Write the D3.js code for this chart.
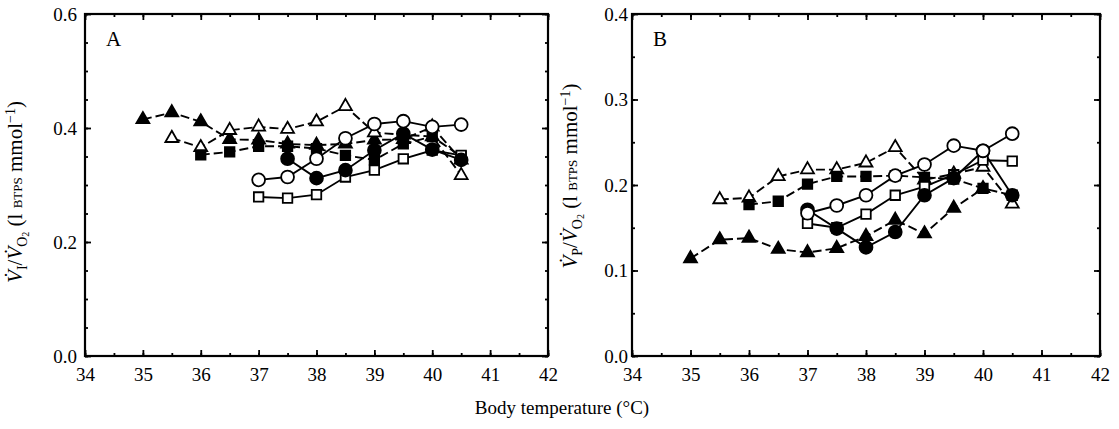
<!DOCTYPE html>
<html>
<head>
<meta charset="utf-8">
<script src="https://cdn.jsdelivr.net/npm/d3@7"></script>
<style>
    body { margin: 0; background: #fff; }
    svg { display: block; font-family: "Liberation Serif", "DejaVu Serif", serif; }
</style>
</head>
<body>
<svg width="1119" height="429"></svg>
<script>
(function(d3) {
    "use strict";

    // temperature ticks (deg C) shared by both panels
    var xTicks = [34, 35, 36, 37, 38, 39, 40, 41, 42],
        yTicksA = [0, 0.2, 0.4, 0.6],
        yTicksB = [0, 0.1, 0.2, 0.3, 0.4];

    // panel A: VI / VO2, [body temperature, value]
    var aFilledTri = [[35, 0.415], [35.5, 0.427], [36, 0.411], [36.5, 0.380], [37, 0.379], [37.5, 0.372],
            [38, 0.370], [38.5, 0.372], [39, 0.379], [39.5, 0.380], [40, 0.402], [40.5, 0.344]],
        aOpenTri = [[35.5, 0.382], [36, 0.366], [36.5, 0.396], [37, 0.402], [37.5, 0.398], [38, 0.411],
            [38.5, 0.438], [39, 0.392], [39.5, 0.388], [40, 0.385], [40.5, 0.317]],
        aFilledSq = [[36, 0.353], [36.5, 0.358], [37, 0.368], [37.5, 0.368], [38, 0.364], [38.5, 0.352],
            [39, 0.344], [39.5, 0.372], [40, 0.385], [40.5, 0.350]],
        aOpenCircle = [[37, 0.309], [37.5, 0.314], [38, 0.346], [38.5, 0.382], [39, 0.407], [39.5, 0.412],
            [40, 0.402], [40.5, 0.406]],
        aFilledCircle = [[37.5, 0.346], [38, 0.312], [38.5, 0.326], [39, 0.361], [39.5, 0.390], [40, 0.362],
            [40.5, 0.344]],
        aOpenSq = [[37, 0.279], [37.5, 0.277], [38, 0.283], [38.5, 0.314], [39, 0.326], [39.5, 0.346],
            [40, 0.361], [40.5, 0.352]];

    // panel B: VP / VO2
    var bFilledTri = [[35, 0.114], [35.5, 0.136], [36, 0.138], [36.5, 0.125], [37, 0.121], [37.5, 0.126],
            [38, 0.140], [38.5, 0.159], [39, 0.143], [39.5, 0.173], [40, 0.196]],
        bOpenTri = [[35.5, 0.183], [36, 0.185], [36.5, 0.210], [37, 0.218], [37.5, 0.218], [38, 0.226],
            [38.5, 0.244], [39, 0.206], [39.5, 0.213], [40, 0.221], [40.5, 0.178]],
        bFilledSq = [[36, 0.177], [36.5, 0.181], [37, 0.201], [37.5, 0.210], [38, 0.210], [38.5, 0.211],
            [39, 0.209], [39.5, 0.207], [40, 0.196], [40.5, 0.188]],
        bOpenCircle = [[37, 0.167], [37.5, 0.176], [38, 0.188], [38.5, 0.211], [39, 0.224], [39.5, 0.246],
            [40, 0.240], [40.5, 0.260]],
        bFilledCircle = [[37, 0.171], [37.5, 0.149], [38, 0.127], [38.5, 0.145], [39, 0.188], [39.5, 0.208],
            [40, 0.240], [40.5, 0.188]],
        bOpenSq = [[37, 0.155], [37.5, 0.150], [38, 0.166], [38.5, 0.188], [39, 0.198], [39.5, 0.212],
            [40, 0.229], [40.5, 0.228]];

    var svg = d3.select("svg"),
        top = 14,
        bottom = 356,

        panels = [{
            label: "A", sub: "I", left: 85, right: 548, yMax: 0.6, yTicks: yTicksA, pad: 8,
            titleX: 22, titleY: 192,
            series: [
                {data: aFilledTri, shape: "tri", filled: true, dashed: true},
                {data: aOpenTri, shape: "tri", filled: false, dashed: true},
                {data: aFilledSq, shape: "sq", filled: true, dashed: true},
                {data: aOpenSq, shape: "sq", filled: false, dashed: false},
                {data: aFilledCircle, shape: "circle", filled: true, dashed: false},
                {data: aOpenCircle, shape: "circle", filled: false, dashed: false}
            ]
        }, {
            label: "B", sub: "P", left: 632, right: 1100, yMax: 0.4, yTicks: yTicksB, pad: 4,
            titleX: 577, titleY: 176,
            series: [
                {data: bFilledTri, shape: "tri", filled: true, dashed: true},
                {data: bOpenTri, shape: "tri", filled: false, dashed: true},
                {data: bFilledSq, shape: "sq", filled: true, dashed: true},
                {data: bOpenSq, shape: "sq", filled: false, dashed: false},
                {data: bFilledCircle, shape: "circle", filled: true, dashed: false},
                {data: bOpenCircle, shape: "circle", filled: false, dashed: false}
            ]
        }],

        symbols = {
            tri: d3.symbol().type(d3.symbolTriangle).size(72),
            sq: d3.symbol().type(d3.symbolSquare).size(90),
            circle: d3.symbol().type(d3.symbolCircle).size(130)
        };

    panels.forEach(function(p) {
        var x = d3.scaleLinear().domain([34, 42]).range([p.left, p.right]),
            y = d3.scaleLinear().domain([0, p.yMax]).range([bottom, top]),
            xMinor = d3.range(34, 42.01, 0.5),
            yMinor = d3.range(0, p.yMax + 0.001, 0.05),
            g = svg.append("g");

        // inward ticks on all four sides
        g.append("g").attr("transform", "translate(0," + bottom + ")")
            .call(d3.axisBottom(x).tickValues(xMinor).tickSize(-3).tickFormat(""));
        g.append("g").attr("transform", "translate(0," + bottom + ")")
            .call(d3.axisBottom(x).tickValues(xTicks).tickSize(-6).tickPadding(12).tickFormat(d3.format("d")));
        g.append("g").attr("transform", "translate(0," + top + ")")
            .call(d3.axisTop(x).tickValues(xMinor).tickSize(-3).tickFormat(""));
        g.append("g").attr("transform", "translate(0," + top + ")")
            .call(d3.axisTop(x).tickValues(xTicks).tickSize(-6).tickFormat(""));
        g.append("g").attr("transform", "translate(" + p.left + ",0)")
            .call(d3.axisLeft(y).tickValues(yMinor).tickSize(-3).tickFormat(""));
        g.append("g").attr("transform", "translate(" + p.left + ",0)")
            .call(d3.axisLeft(y).tickValues(p.yTicks).tickSize(-6).tickPadding(p.pad).tickFormat(d3.format(".1f")));
        g.append("g").attr("transform", "translate(" + p.right + ",0)")
            .call(d3.axisRight(y).tickValues(yMinor).tickSize(-3).tickFormat(""));
        g.append("g").attr("transform", "translate(" + p.right + ",0)")
            .call(d3.axisRight(y).tickValues(p.yTicks).tickSize(-6).tickFormat(""));

        g.selectAll(".domain").remove();
        g.selectAll(".tick line").attr("stroke", "#000").attr("stroke-width", 1.8);
        g.selectAll(".tick text").attr("fill", "#000").attr("font-family", "Liberation Serif").attr("font-size", 19);

        g.append("rect")
            .attr("x", p.left).attr("y", top)
            .attr("width", p.right - p.left).attr("height", bottom - top)
            .attr("fill", "none").attr("stroke", "#000").attr("stroke-width", 2.2);

        g.append("text").attr("x", p.left + 21).attr("y", top + 32)
            .attr("font-size", 21).text(p.label);

        var line = d3.line().x(function(d) { return x(d[0]); }).y(function(d) { return y(d[1]); });

        g.selectAll("path.series").data(p.series).enter().append("path")
            .attr("class", "series")
            .attr("d", function(s) { return line(s.data); })
            .attr("fill", "none").attr("stroke", "#000").attr("stroke-width", 1.9)
            .attr("stroke-dasharray", function(s) { return s.dashed ? "9,4" : null; });

        p.series.forEach(function(s) {
            g.selectAll(null).data(s.data).enter().append("path")
                .attr("transform", function(d) { return "translate(" + x(d[0]) + "," + y(d[1]) + ")"; })
                .attr("d", symbols[s.shape])
                .attr("fill", s.filled ? "#000" : "#fff")
                .attr("stroke", "#000").attr("stroke-width", 1.8);
        });

        // rotated y title: V̇x/V̇O2 (l BTPS mmol−1)
        var t = svg.append("text")
            .attr("transform", "translate(" + p.titleX + "," + p.titleY + ") rotate(-90)")
            .attr("text-anchor", "middle").attr("font-size", 21);
        t.append("tspan").attr("font-style", "italic").text("V\u0307");
        t.append("tspan").attr("font-size", 14).attr("dy", 5).text(p.sub);
        t.append("tspan").attr("dy", -5).text("/");
        t.append("tspan").attr("font-style", "italic").text("V\u0307");
        t.append("tspan").attr("font-size", 14).attr("dy", 5).text("O");
        t.append("tspan").attr("font-size", 10).attr("dy", 2).text("2");
        t.append("tspan").attr("dy", -7).text(" (l ");
        t.append("tspan").attr("font-size", 13).text("BTPS");
        t.append("tspan").text(" mmol");
        t.append("tspan").attr("font-size", 14).attr("dy", -7).text("\u22121");
        t.append("tspan").attr("dy", 7).text(")");
    });

    svg.append("text")
        .attr("x", 562).attr("y", 414)
        .attr("text-anchor", "middle").attr("font-size", 19)
        .text("Body temperature (\u00B0C)");

}(d3));
</script>
</body>
</html>
